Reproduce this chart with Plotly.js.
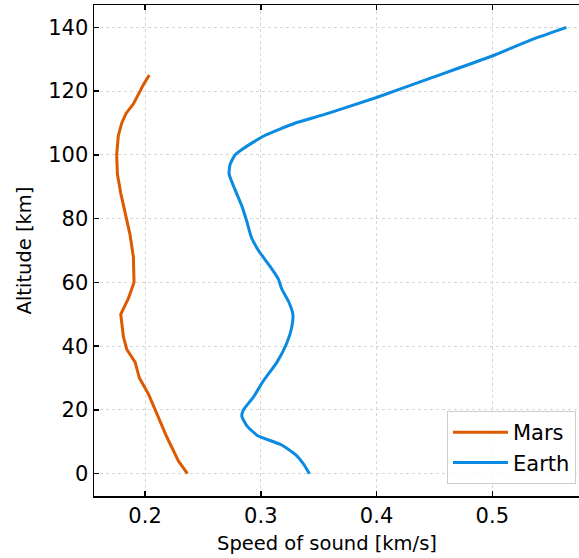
<!DOCTYPE html>
<html>
<head>
<meta charset="utf-8">
<script src="https://cdn.plot.ly/plotly-3.0.1.min.js"></script>
<style>html,body{margin:0;padding:0;background:#fff;}#chart{width:579px;height:558px;}</style>
</head>
<body>
<div id="chart"></div>
<script>
// Mars profile: altitude [km] and speed of sound [km/s]
const marsAltitude = [0, 4, 11.5, 20, 25, 30, 35, 39, 43, 50, 55, 60, 64, 68, 75, 82, 88, 94, 100, 106, 110, 113, 116, 120, 122, 125];
const marsSpeed = [0.2366, 0.2288, 0.2188, 0.2086, 0.2029, 0.1951, 0.1914, 0.1842, 0.1813, 0.179, 0.1856, 0.1905, 0.1905, 0.1899, 0.187, 0.1827, 0.179, 0.1761, 0.1755, 0.1769, 0.1799, 0.1836, 0.1899, 0.1957, 0.1985, 0.2037];

// Earth profile
const earthAltitude = [0, 3, 6, 9, 12, 15, 18, 20, 24, 29, 35, 41, 46, 50, 54, 58, 61, 65, 70, 74, 79, 84, 89, 94, 97, 100, 102, 104, 106, 108, 110, 113, 118, 124, 131, 136, 140];
const earthSpeed = [0.342, 0.337, 0.330, 0.318, 0.297, 0.288, 0.2836, 0.285, 0.2936, 0.302, 0.314, 0.3225, 0.3268, 0.3277, 0.324, 0.318, 0.3152, 0.308, 0.298, 0.292, 0.288, 0.2836, 0.2778, 0.2726, 0.2735, 0.2778, 0.285, 0.2936, 0.303, 0.316, 0.330, 0.358, 0.400, 0.446, 0.500, 0.533, 0.564];

const xTickVals = [0.2, 0.3, 0.4, 0.5];
const yTickVals = [0, 20, 40, 60, 80, 100, 120, 140];

const tickFont = {family: 'DejaVu Sans, sans-serif', size: 21, color: '#000'};
const titleFont = {family: 'DejaVu Sans, sans-serif', size: 19.5, color: '#000'};

const traces = [
  {x: marsSpeed, y: marsAltitude, name: 'Mars', mode: 'lines', line: {color: '#dd5a02', width: 3}},
  {x: earthSpeed, y: earthAltitude, name: 'Earth', mode: 'lines', line: {color: '#0a8ae0', width: 3, shape: 'spline', smoothing: 0.5}}
];

const layout = {
  width: 579, height: 558,
  margin: {l: 94, r: 0, t: 5, b: 62},
  paper_bgcolor: '#fff', plot_bgcolor: '#fff',
  font: tickFont,
  showlegend: true,
  xaxis: {
    range: [0.1559, 0.5749],
    tickvals: xTickVals, ticktext: xTickVals.map(v => v.toFixed(1)),
    ticks: 'inside', ticklen: 5, tickwidth: 1.5, tickcolor: '#000',
    showline: true, linecolor: '#000', linewidth: 1.5, mirror: 'ticks',
    showgrid: true, gridcolor: '#d6d6d6', griddash: '3px,3px', gridwidth: 1,
    zeroline: false,
    tickfont: tickFont
  },
  yaxis: {
    range: [-7, 147],
    tickvals: yTickVals,
    ticks: 'inside', ticklen: 5, tickwidth: 1.5, tickcolor: '#000',
    showline: true, linecolor: '#000', linewidth: 1.5, mirror: false,
    showgrid: true, gridcolor: '#d6d6d6', griddash: '3px,3px', gridwidth: 1,
    zeroline: false,
    title: {text: 'Altitude [km]', font: titleFont, standoff: 11},
    tickfont: tickFont
  },
  annotations: [{
    text: 'Speed of sound [km/s]', font: titleFont, showarrow: false,
    xref: 'paper', yref: 'paper', x: (326.5 - 94) / 485, y: -0.07, xanchor: 'center', yanchor: 'top'
  }],
  legend: {
    x: 0.9938, xanchor: 'right', y: 0.0244, yanchor: 'bottom',
    bgcolor: 'rgba(255,255,255,0.8)', bordercolor: '#cccccc', borderwidth: 1,
    font: {family: 'DejaVu Sans, sans-serif', size: 21, color: '#000'},
    itemwidth: 55,
    tracegroupgap: 0
  }
};

Plotly.newPlot('chart', traces, layout, {displayModeBar: false, staticPlot: true});
</script>
</body>
</html>
